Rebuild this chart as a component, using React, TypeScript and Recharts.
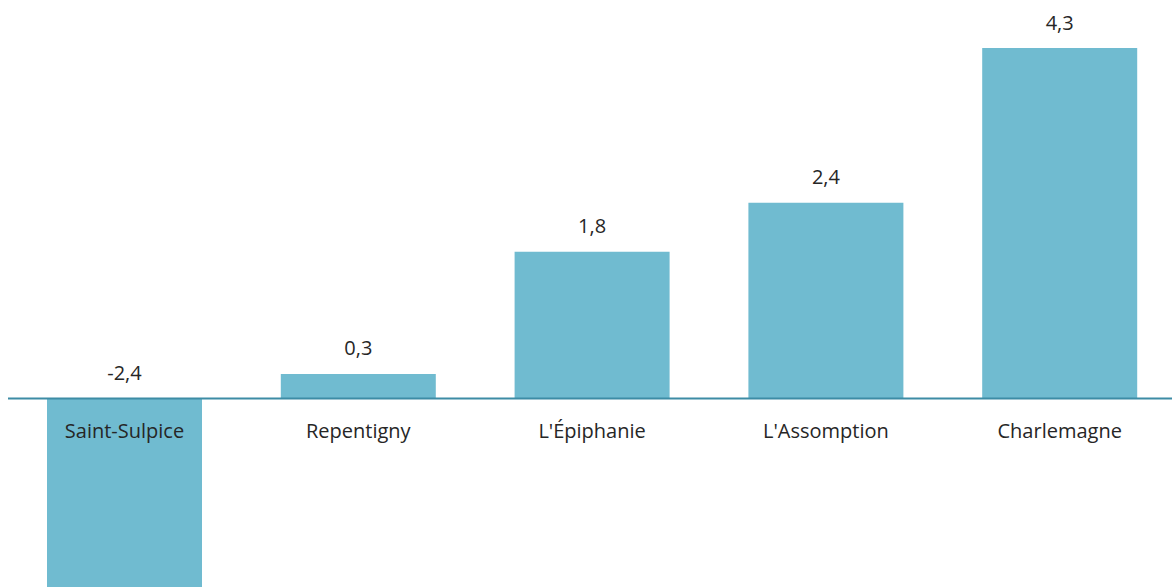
import React from 'react';
import { BarChart, Bar, XAxis, YAxis, ReferenceLine, LabelList } from 'recharts';

const categories = ['Saint-Sulpice', 'Repentigny', "L'Épiphanie", "L'Assomption", 'Charlemagne'];
const values = [-2.4, 0.3, 1.8, 2.4, 4.3];

const data = categories.map((name, i) => ({ name, value: values[i] }));

const FONT = '"Open Sans", "Segoe UI", sans-serif';
const TEXT = '#262626';

const fmt = (v: number) => v.toFixed(1).replace('.', ',');

const boxOf = (props: any) => {
  const vb = props.viewBox || {};
  const x = props.x ?? vb.x;
  const y = props.y ?? vb.y;
  const w = props.width ?? vb.width;
  const h = props.height ?? vb.height;
  return { x, w, top: Math.min(y, y + h), bottom: Math.max(y, y + h) };
};

// value labels sit above the bar top, or above the zero line for negative bars
const ValueLabel = (props: any) => {
  const { x, w, top } = boxOf(props);
  const v = values[props.index];
  return (
    <text x={x + w / 2} y={top - 26} textAnchor="middle" dominantBaseline="central"
      fontFamily={FONT} fontSize={20} fill={TEXT}>
      {fmt(v)}
    </text>
  );
};

const CategoryLabel = (props: any) => {
  const { x, w, top, bottom } = boxOf(props);
  const v = values[props.index];
  const zero = v >= 0 ? bottom : top;
  return (
    <text x={x + w / 2} y={zero + 32} textAnchor="middle" dominantBaseline="central"
      fontFamily={FONT} fontSize={20} fill={TEXT}>
      {categories[props.index]}
    </text>
  );
};

export default function App() {
  return (
    <>
      <style>{'html, body { margin: 0; overflow: hidden; }'}</style>
      <div style={{ position: 'absolute', left: 8, top: 8, width: 1164, height: 579, overflow: 'hidden' }}>
        <BarChart width={1169} height={586} data={data} margin={{ top: 40, right: 0, bottom: 0, left: 0 }}
          barSize={155}>
          <XAxis dataKey="name" hide />
          <YAxis hide domain={[-2.4, 4.3]} allowDataOverflow />
          <Bar dataKey="value" fill="#70bbd0" isAnimationActive={false}>
            <LabelList dataKey="value" content={ValueLabel} />
            <LabelList dataKey="name" content={CategoryLabel} />
          </Bar>
          <ReferenceLine y={0} stroke="#3d8ca5" strokeWidth={2} />
        </BarChart>
      </div>
    </>
  );
}
